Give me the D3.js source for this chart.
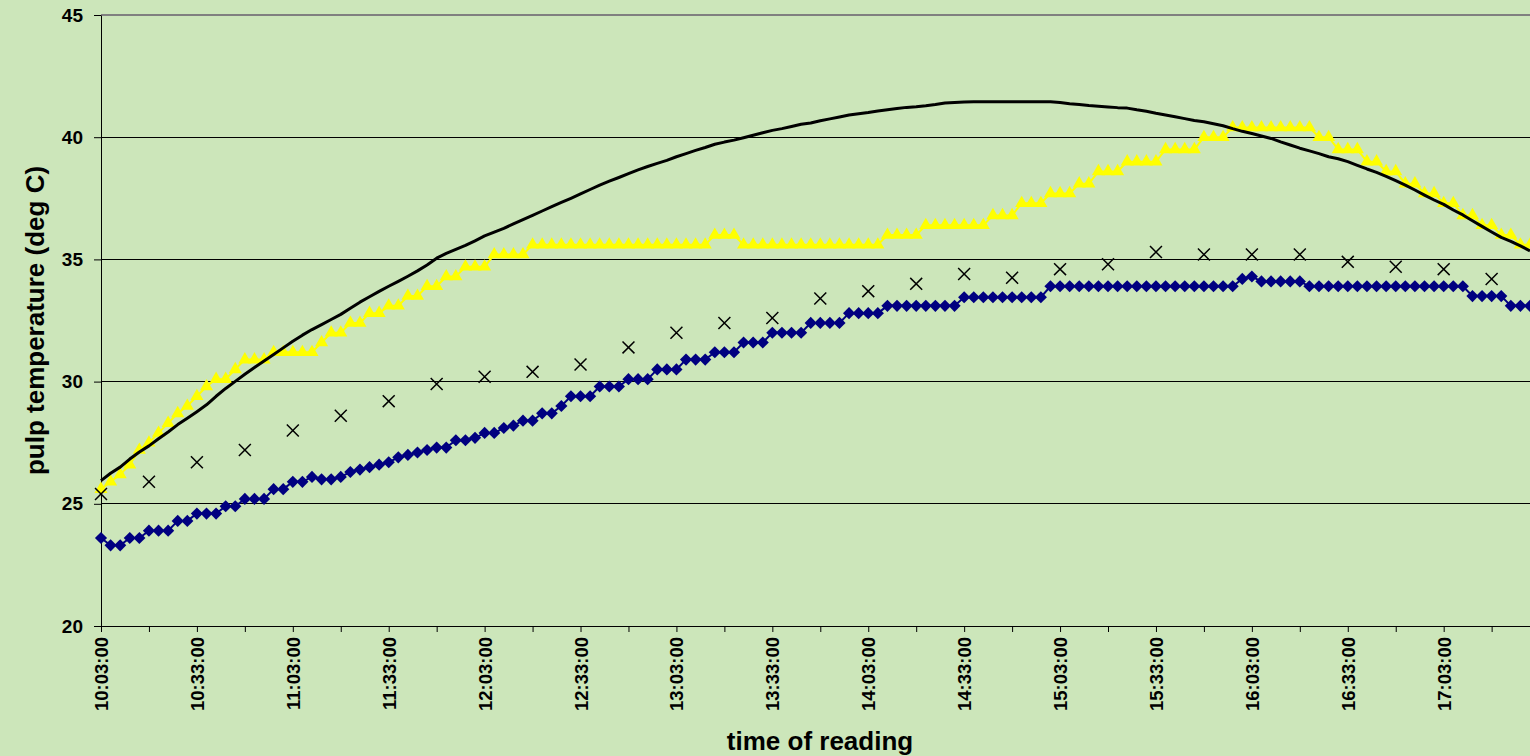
<!DOCTYPE html>
<html>
<head>
<meta charset="utf-8">
<script src="https://cdn.jsdelivr.net/npm/d3@7"></script>
<style>
  html, body { margin: 0; padding: 0; background: #cce6ba; }
  svg { display: block; font-family: "Liberation Sans", Arial, sans-serif; }
</style>
</head>
<body>
<div id="chart"></div>
<script>
// readings every 3 minutes, 10:03:00 .. 17:30:00
const startMinutes = 10 * 60 + 3;
const readingTimes = d3.range(150).map(i => {
    const m = startMinutes + i * 3;
    const hh = Math.floor(m / 60), mm = m % 60;
    return `${hh}:${String(mm).padStart(2, "0")}:00`;
});

const tickLabels = ["10:03:00", "10:33:00", "11:03:00", "11:33:00", "12:03:00", "12:33:00", "13:03:00",
    "13:33:00", "14:03:00", "14:33:00", "15:03:00", "15:33:00", "16:03:00", "16:33:00", "17:03:00"];

const yTicks = [20, 25, 30, 35, 40, 45];

// navy diamonds
const seriesA = [
    23.6, 23.3, 23.3, 23.6, 23.6, 23.9, 23.9, 23.9, 24.3, 24.3,
    24.6, 24.6, 24.6, 24.9, 24.9, 25.2, 25.2, 25.2, 25.6, 25.6,
    25.9, 25.9, 26.1, 26.0, 26.0, 26.1, 26.3, 26.4, 26.5, 26.6,
    26.7, 26.9, 27.0, 27.1, 27.2, 27.3, 27.3, 27.6, 27.6, 27.7,
    27.9, 27.9, 28.1, 28.2, 28.4, 28.4, 28.7, 28.7, 29.0, 29.4,
    29.4, 29.4, 29.8, 29.8, 29.8, 30.1, 30.1, 30.1, 30.5, 30.5,
    30.5, 30.9, 30.9, 30.9, 31.2, 31.2, 31.2, 31.6, 31.6, 31.6,
    32.0, 32.0, 32.0, 32.0, 32.4, 32.4, 32.4, 32.4, 32.8, 32.8,
    32.8, 32.8, 33.1, 33.1, 33.1, 33.1, 33.1, 33.1, 33.1, 33.1,
    33.45, 33.45, 33.45, 33.45, 33.45, 33.45, 33.45, 33.45, 33.45, 33.9,
    33.9, 33.9, 33.9, 33.9, 33.9, 33.9, 33.9, 33.9, 33.9, 33.9,
    33.9, 33.9, 33.9, 33.9, 33.9, 33.9, 33.9, 33.9, 33.9, 34.2,
    34.3, 34.1, 34.1, 34.1, 34.1, 34.1, 33.9, 33.9, 33.9, 33.9,
    33.9, 33.9, 33.9, 33.9, 33.9, 33.9, 33.9, 33.9, 33.9, 33.9,
    33.9, 33.9, 33.9, 33.5, 33.5, 33.5, 33.5, 33.1, 33.1, 33.1
];

// yellow triangles
const seriesB = [
    25.6, 25.9, 26.2, 26.6, 27.2, 27.5, 27.9, 28.3, 28.7, 29.0,
    29.4, 29.8, 30.1, 30.1, 30.5, 30.9, 30.9, 30.9, 31.2, 31.2,
    31.2, 31.2, 31.2, 31.6, 32.0, 32.0, 32.4, 32.4, 32.8, 32.8,
    33.1, 33.1, 33.5, 33.5, 33.9, 33.9, 34.3, 34.3, 34.7, 34.7,
    34.7, 35.2, 35.2, 35.2, 35.2, 35.6, 35.6, 35.6, 35.6, 35.6,
    35.6, 35.6, 35.6, 35.6, 35.6, 35.6, 35.6, 35.6, 35.6, 35.6,
    35.6, 35.6, 35.6, 35.6, 36.0, 36.0, 36.0, 35.6, 35.6, 35.6,
    35.6, 35.6, 35.6, 35.6, 35.6, 35.6, 35.6, 35.6, 35.6, 35.6,
    35.6, 35.6, 36.0, 36.0, 36.0, 36.0, 36.4, 36.4, 36.4, 36.4,
    36.4, 36.4, 36.4, 36.8, 36.8, 36.8, 37.3, 37.3, 37.3, 37.7,
    37.7, 37.7, 38.1, 38.1, 38.6, 38.6, 38.6, 39.0, 39.0, 39.0,
    39.0, 39.5, 39.5, 39.5, 39.5, 40.0, 40.0, 40.0, 40.4, 40.4,
    40.4, 40.4, 40.4, 40.4, 40.4, 40.4, 40.4, 40.0, 40.0, 39.5,
    39.5, 39.5, 39.0, 39.0, 38.6, 38.6, 38.1, 38.1, 37.7, 37.7,
    37.3, 37.3, 36.8, 36.8, 36.4, 36.4, 36.0, 36.0, 35.6, 35.6
];

// black line
const seriesC = [
    25.95, 26.25, 26.5, 26.83, 27.12, 27.37, 27.66, 27.94, 28.24, 28.5,
    28.77, 29.05, 29.4, 29.72, 30.01, 30.3, 30.58, 30.84, 31.11, 31.38,
    31.65, 31.9, 32.13, 32.33, 32.54, 32.75, 33.0, 33.25, 33.47, 33.69,
    33.9, 34.1, 34.31, 34.53, 34.77, 35.05, 35.25, 35.41, 35.57, 35.76,
    35.96, 36.12, 36.27, 36.45, 36.63, 36.8, 36.98, 37.16, 37.33, 37.5,
    37.68, 37.86, 38.04, 38.2, 38.35, 38.51, 38.66, 38.8, 38.93, 39.05,
    39.2, 39.33, 39.46, 39.58, 39.71, 39.8, 39.88, 39.98, 40.08, 40.18,
    40.28, 40.35, 40.44, 40.53, 40.58, 40.67, 40.75, 40.83, 40.91, 40.96,
    41.01, 41.07, 41.12, 41.17, 41.22, 41.25, 41.29, 41.34, 41.4, 41.42,
    41.44, 41.45, 41.45, 41.45, 41.45, 41.45, 41.45, 41.45, 41.45, 41.45,
    41.42, 41.37, 41.34, 41.3, 41.27, 41.24, 41.21, 41.19, 41.12, 41.06,
    40.98, 40.91, 40.84, 40.76, 40.68, 40.63, 40.55, 40.47, 40.35, 40.24,
    40.15, 40.05, 39.95, 39.81, 39.68, 39.55, 39.44, 39.33, 39.2, 39.12,
    39.0, 38.85, 38.7, 38.56, 38.4, 38.22, 38.04, 37.84, 37.63, 37.43,
    37.25, 37.02, 36.82, 36.58, 36.35, 36.12, 35.9, 35.74, 35.55, 35.35
];

// crosses, one reading every 15 minutes (every 5th time)
const crossStep = 5;
const seriesD = [
    25.4, 25.9, 26.7, 27.2, 28.0, 28.6, 29.2, 29.9, 30.2, 30.4,
    30.7, 31.4, 32.0, 32.4, 32.6, 33.4, 33.7, 34.0, 34.4, 34.25,
    34.6, 34.8, 35.3, 35.2, 35.2, 35.2, 34.9, 34.7, 34.6, 34.2
];

const width = 1530, height = 756;
const margin = { left: 101, right: 0, top: 15, bottom: 130 };
const bg = "#cce6ba";

const svg = d3.select("#chart").append("svg")
    .attr("width", width)
    .attr("height", height);

svg.append("rect").attr("width", width).attr("height", height).attr("fill", bg);

const x = d3.scaleLinear()
    .domain([0, readingTimes.length - 1])
    .range([margin.left, width - margin.right]);

const y = d3.scaleLinear()
    .domain([20, 45])
    .range([height - margin.bottom, margin.top]);

// Gridlines
svg.append("g")
    .selectAll("line")
    .data(yTicks.filter(t => t > 20 && t < 45))
    .enter()
    .append("line")
    .attr("x1", margin.left)
    .attr("x2", width)
    .attr("y1", d => y(d))
    .attr("y2", d => y(d))
    .attr("stroke", "#000")
    .attr("stroke-width", 1)
    .attr("shape-rendering", "crispEdges");

// top border of plot area
svg.append("line")
    .attr("x1", margin.left).attr("x2", width)
    .attr("y1", y(45)).attr("y2", y(45))
    .attr("stroke", "#808080")
    .attr("stroke-width", 2);

// Axes
const yAxis = svg.append("g")
    .attr("transform", `translate(${margin.left},0)`)
    .call(d3.axisLeft(y).tickValues(yTicks).tickSize(7).tickPadding(11).tickSizeOuter(0));

yAxis.select(".domain").attr("stroke", "#000");
yAxis.selectAll("text")
    .attr("font-size", "19px")
    .attr("font-weight", "bold")
    .attr("fill", "#000");

const tickIdx = d3.range(0, readingTimes.length, 5);
const labelIdx = tickLabels.map(t => readingTimes.indexOf(t));

const xAxis = svg.append("g")
    .attr("transform", `translate(0,${y(20)})`)
    .call(d3.axisBottom(x)
        .tickValues(tickIdx)
        .tickSize(6)
        .tickSizeOuter(0)
        .tickFormat(i => labelIdx.includes(i) ? readingTimes[i] : ""));

xAxis.select(".domain").attr("stroke", "#000");
xAxis.selectAll("text")
    .attr("font-size", "18.5px")
    .attr("font-weight", "bold")
    .attr("fill", "#000")
    .attr("text-anchor", "end")
    .attr("transform", "rotate(-90)")
    .attr("x", -11)
    .attr("y", 0)
    .attr("dy", "0.35em");

// Series A: navy diamonds with connecting line
const line = d3.line().x((d, i) => x(i)).y(d => y(d));

svg.append("path")
    .datum(seriesA)
    .attr("d", line)
    .attr("fill", "none")
    .attr("stroke", "#000080")
    .attr("stroke-width", 2);

svg.append("g")
    .selectAll("path")
    .data(seriesA)
    .enter()
    .append("path")
    .attr("d", d3.symbol(d3.symbolSquare).size(74))
    .attr("transform", (d, i) => `translate(${x(i)},${y(d)}) rotate(45)`)
    .attr("fill", "#000080");

// Series B: yellow triangles
svg.append("path")
    .datum(seriesB)
    .attr("d", line)
    .attr("fill", "none")
    .attr("stroke", "#ffff00")
    .attr("stroke-width", 2);

svg.append("g")
    .selectAll("path")
    .data(seriesB)
    .enter()
    .append("path")
    .attr("d", d3.symbol(d3.symbolTriangle).size(74))
    .attr("transform", (d, i) => `translate(${x(i)},${y(d)})`)
    .attr("fill", "#ffff00");

// Series C: black line
svg.append("path")
    .datum(seriesC)
    .attr("d", line)
    .attr("fill", "none")
    .attr("stroke", "#000")
    .attr("stroke-width", 3)
    .attr("stroke-linejoin", "round");

// Series D: crosses
svg.append("g")
    .selectAll("path")
    .data(seriesD)
    .enter()
    .append("path")
    .attr("d", d3.symbol(d3.symbolX).size(95))
    .attr("transform", (d, k) => `translate(${x(k * crossStep)},${y(d)})`)
    .attr("fill", "none")
    .attr("stroke", "#000")
    .attr("stroke-width", 1.5);

// Axis titles
svg.append("text")
    .attr("transform", `translate(44,${(y(20) + y(45)) / 2}) rotate(-90)`)
    .attr("text-anchor", "middle")
    .attr("font-size", "26px")
    .attr("font-weight", "bold")
    .attr("fill", "#000")
    .text("pulp temperature (deg C)");

svg.append("text")
    .attr("x", 820)
    .attr("y", 750)
    .attr("text-anchor", "middle")
    .attr("font-size", "26px")
    .attr("font-weight", "bold")
    .attr("fill", "#000")
    .text("time of reading");
</script>
</body>
</html>
